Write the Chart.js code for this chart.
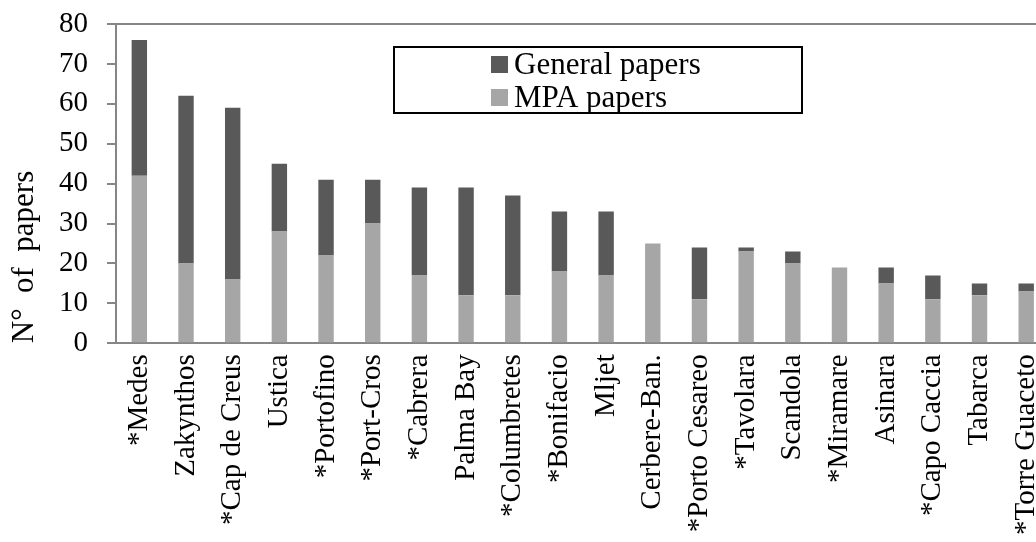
<!DOCTYPE html>
<html>
<head>
<meta charset="utf-8">
<script src="https://cdn.jsdelivr.net/npm/chart.js@4/dist/chart.umd.min.js"></script>
<style>
  html, body { margin: 0; padding: 0; background: #fff; overflow: hidden; }
  #wrap { width: 1064px; height: 542px; }
</style>
</head>
<body>
<div id="wrap"><canvas id="grafik" width="1064" height="542"></canvas></div>
<script>
// kategoriler (yıldızlı olanlar orijinal grafikteki gibi)
const alanlar = ['*Medes', 'Zakynthos', '*Cap de Creus', 'Ustica', '*Portofino', '*Port-Cros', '*Cabrera',
  'Palma Bay', '*Columbretes', '*Bonifacio', 'Mljet', 'Cerbere-Ban.', '*Porto Cesareo', '*Tavolara',
  'Scandola', '*Miramare', 'Asinara', '*Capo Caccia', 'Tabarca', '*Torre Guaceto'];
const mpaMakaleleri = [42, 20, 16, 28, 22, 30, 17, 12, 12, 18, 17, 25, 11, 23, 20, 19, 15, 11, 12, 13];
const genelMakaleler = [34, 42, 43, 17, 19, 11, 22, 27, 25, 15, 16, 0, 13, 1, 3, 0, 4, 6, 3, 2];
const yTikleri = [0, 10, 20, 30, 40, 50, 60, 70, 80];

const serifFont = '"Liberation Serif", "Times New Roman", serif';
const eksenRengi = '#868686';

// legend kutusu: grafiğin içine, çerçeveli
const legendKutusu = {
  id: 'legendKutusu',
  afterDraw(chart) {
    const ctx = chart.ctx;
    const x = 394, y = 47, w = 408, h = 66;
    ctx.save();
    ctx.fillStyle = '#fff';
    ctx.fillRect(x, y, w, h);
    ctx.strokeStyle = '#000';
    ctx.lineWidth = 2;
    ctx.strokeRect(x, y, w, h);
    const ogeler = [
      { text: 'General papers', color: chart.data.datasets[1].backgroundColor },
      { text: 'MPA papers', color: chart.data.datasets[0].backgroundColor }
    ];
    ctx.font = '31px ' + serifFont;
    ctx.textBaseline = 'middle';
    ogeler.forEach((o, i) => {
      const cy = y + 17 + i * 33;
      ctx.fillStyle = o.color;
      ctx.fillRect(491, cy - 8, 17, 17);
      ctx.fillStyle = '#000';
      ctx.fillText(o.text, 514, cy + 2);
    });
    ctx.restore();
  }
};

new Chart(document.getElementById('grafik'), {
  type: 'bar',
  data: {
    labels: alanlar,
    datasets: [
      { label: 'MPA papers', data: mpaMakaleleri, backgroundColor: '#a6a6a6', barPercentage: 0.33, categoryPercentage: 1 },
      { label: 'General papers', data: genelMakaleler, backgroundColor: '#595959', barPercentage: 0.33, categoryPercentage: 1 }
    ]
  },
  options: {
    responsive: false,
    animation: false,
    layout: { padding: { top: 24, right: 0, left: 9, bottom: 4 } },
    plugins: {
      legend: { display: false },
      tooltip: { enabled: false }
    },
    scales: {
      x: {
        stacked: true,
        grid: { display: false },
        border: { display: true, color: eksenRengi, width: 2 },
        ticks: {
          color: '#000',
          font: { family: serifFont, size: 29 },
          minRotation: 90,
          maxRotation: 90,
          autoSkip: false,
          padding: 3
        }
      },
      y: {
        stacked: true,
        min: 0,
        max: 80,
        afterBuildTicks: (axis) => { axis.ticks = yTikleri.map(v => ({ value: v })); },
        // etiket dolgusu sadece yatayda kalsın, üst/alt payı sabit
        afterFit: (axis) => { axis.paddingTop = 15; axis.paddingBottom = 15; },
        grid: {
          color: (c) => (c.tick && c.tick.value === 80 ? eksenRengi : 'rgba(0,0,0,0)'),
          tickColor: eksenRengi,
          tickLength: 9,
          lineWidth: 2
        },
        border: { display: true, color: eksenRengi, width: 2 },
        ticks: {
          color: '#000',
          font: { family: serifFont, size: 29, lineHeight: 1 },
          autoSkip: false,
          padding: 19
        },
        title: {
          display: true,
          text: 'N°  of  papers',
          align: 'start',
          color: '#000',
          font: { family: serifFont, size: 31, lineHeight: 1 },
          padding: { top: 0, bottom: 0 }
        }
      }
    }
  },
  plugins: [legendKutusu]
});
</script>
</body>
</html>
